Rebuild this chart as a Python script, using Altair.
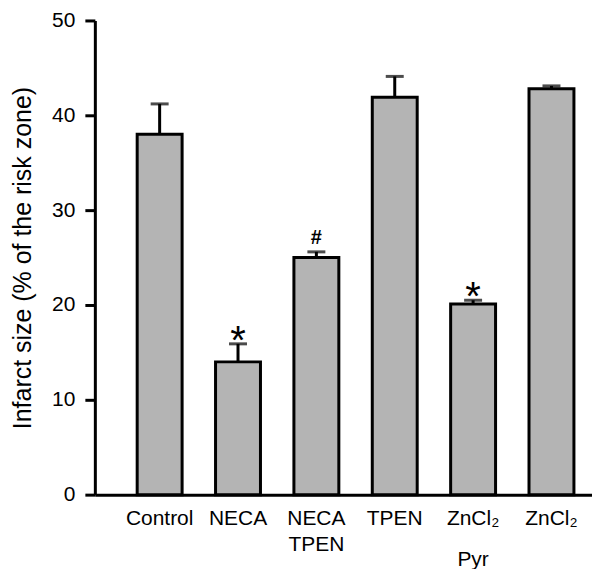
import altair as alt
import pandas as pd

categories = ["Control", "NECA", "NECA TPEN", "TPEN", "ZnCl₂ Pyr", "ZnCl₂"]
means = [38.0, 14.0, 25.0, 41.9, 20.1, 42.8]
sems = [3.2, 1.9, 0.6, 2.2, 0.4, 0.3]
marks = ["", "*", "#", "", "*", ""]
y_ticks = [0, 10, 20, 30, 40, 50]
y_title = "Infarct size (% of the risk zone)"

df = pd.DataFrame({"group": categories, "mean": means, "sem": sems, "mark": marks})
df["upper"] = df["mean"] + df["sem"]

FONT = "Liberation Sans"

# first label lines (NECA TPEN keeps both of its lines here)
label_expr_main = (
    "datum.label == 'NECA TPEN' ? ['NECA', 'TPEN'] : "
    "datum.label == 'ZnCl₂ Pyr' ? 'ZnCl₂' : datum.label"
)
# the lower line under ZnCl₂ (sits lower because of the subscript line)
label_expr_low = "datum.label == 'ZnCl₂ Pyr' ? 'Pyr' : ''"

x_scale = alt.Scale(paddingInner=0, paddingOuter=0.172, align=0.95)

x_main = alt.X(
    "group:N", sort=categories, scale=x_scale,
    axis=alt.Axis(
        title=None, ticks=False, tickSize=0, labelAngle=0, labelPadding=13,
        labelLineHeight=26, labelExpr=label_expr_main, labelFontSize=21,
    ),
)
x_low = alt.X(
    "group:N", sort=categories, scale=x_scale,
    axis=alt.Axis(
        title=None, orient="bottom", domain=False, ticks=False, tickSize=0,
        labelAngle=0, labelPadding=13, offset=41, labelExpr=label_expr_low,
        labelFontSize=21,
    ),
)
x_none = alt.X("group:N", sort=categories, scale=x_scale, axis=None)


def y_enc(field):
    return alt.Y(
        field,
        type="quantitative",
        scale=alt.Scale(domain=[0, 50], nice=False, zero=True),
        axis=alt.Axis(
            values=y_ticks, title=y_title, titleFontSize=25, titleFontWeight="normal",
            titlePadding=16, labelFontSize=21, tickSize=10, labelPadding=10, grid=False,
        ),
    )


base = alt.Chart(df)

err = base.mark_rule(color="black", strokeWidth=3).encode(
    x=x_none, y=y_enc("mean"), y2=alt.Y2("upper")
)
bars = base.mark_bar(width=45, color="#b4b4b4", stroke="black", strokeWidth=3).encode(
    x=x_main, y=y_enc("mean")
)
caps = base.mark_tick(color="black", size=18, thickness=3).encode(
    x=x_low, y=y_enc("upper")
)
stars = base.mark_text(
    font=FONT, fontSize=40, baseline="alphabetic", dy=10, color="black"
).encode(x=x_none, y=y_enc("upper"), text="mark:N").transform_filter("datum.mark == '*'")
hashes = base.mark_text(
    font=FONT, fontSize=20, fontWeight="bold", baseline="alphabetic", dy=-8, color="black"
).encode(x=x_none, y=y_enc("upper"), text="mark:N").transform_filter("datum.mark == '#'")

chart = (
    alt.layer(err, bars, caps, stars, hashes)
    .resolve_axis(x="independent")
    .properties(
        width=498,
        height=475,
        padding={"left": 87, "top": 12, "right": 0, "bottom": 76},
        autosize=alt.AutoSizeParams(type="none"),
    )
    .configure_view(stroke=None)
    .configure_axis(
        domainColor="black", domainWidth=3, tickColor="black", tickWidth=3,
        labelColor="black", titleColor="black", labelFont=FONT, titleFont=FONT,
    )
)

chart.save("out.html", embed_options={"renderer": "svg", "actions": False})
